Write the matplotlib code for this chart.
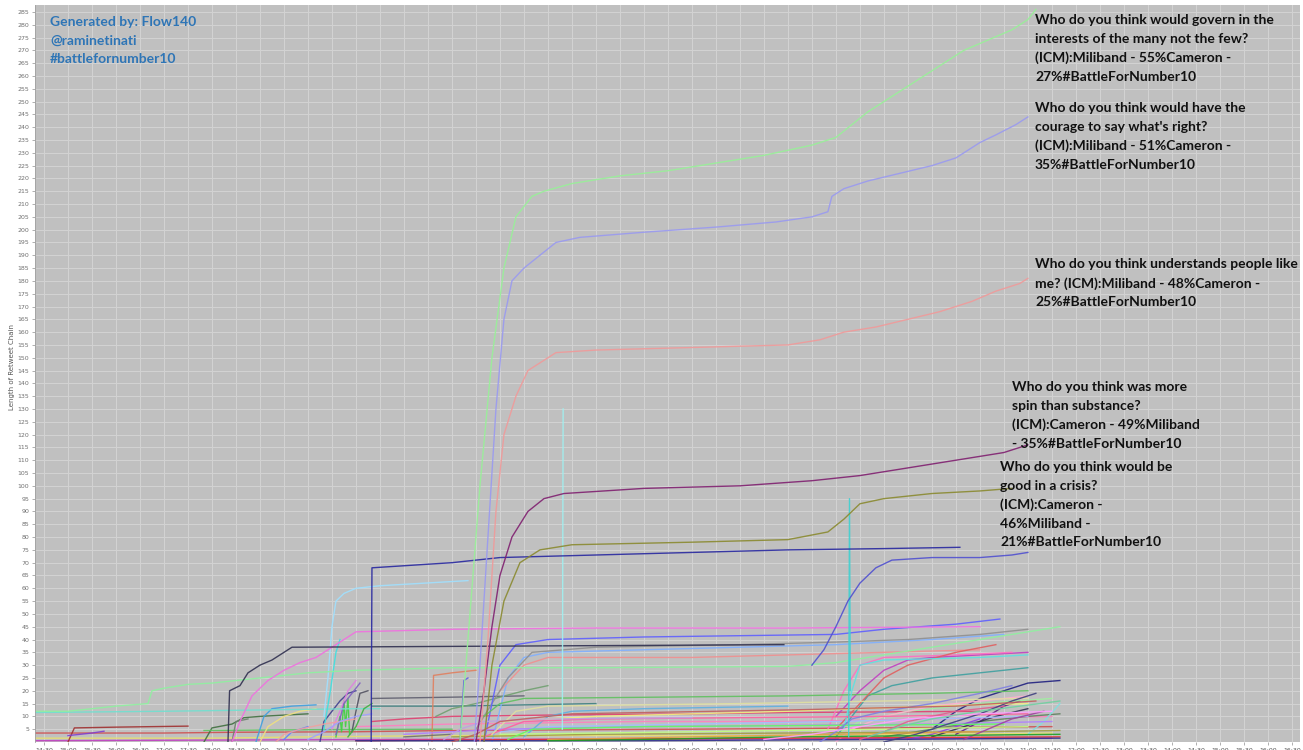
import matplotlib
matplotlib.use("Agg")
import matplotlib.pyplot as plt

# ---------------- data ----------------
x_tick_labels = ["14:30", "15:00", "15:30", "16:00", "16:30", "17:00", "17:30", "18:00", "18:30",
                 "19:00", "19:30", "20:00", "20:30", "21:00", "21:30", "22:00", "22:30", "23:00",
                 "23:30", "00:00", "00:30", "01:00", "01:30", "02:00", "02:30", "03:00", "03:30",
                 "04:00", "04:30", "05:00", "05:30", "06:00", "06:30", "07:00", "07:30", "08:00",
                 "08:30", "09:00", "09:30", "10:00", "10:30", "11:00", "11:30", "12:00", "12:30",
                 "13:00", "13:30", "14:00", "14:30", "15:00", "15:30", "16:00", "16:30"]
y_ticks = list(range(5, 290, 5))

chain_govern = [("23:10", 0), ("23:20", 40), ("23:35", 100), ("23:50", 150), ("00:05", 185),
                ("00:20", 205), ("00:40", 213), ("00:55", 215), ("01:30", 218),
                ("02:30", 221), ("03:30", 223), ("04:30", 226), ("05:30", 229), ("06:30", 233),
                ("07:00", 236), ("07:20", 241), ("07:40", 246), ("08:10", 252), ("08:40", 258),
                ("09:10", 264), ("09:40", 270), ("10:10", 274), ("10:40", 278), ("11:00", 282),
                ("11:10", 286)]
chain_courage = [("23:28", 0), ("23:35", 30), ("23:45", 80), ("23:55", 130), ("00:05", 165),
                 ("00:15", 180), ("00:30", 185), ("00:50", 190), ("01:10", 195), ("01:40", 197),
                 ("03:00", 199), ("04:30", 201), ("05:45", 203), ("06:30", 205), ("06:50", 207),
                 ("06:55", 213), ("07:10", 216), ("07:40", 219), ("08:20", 222), ("09:00", 225),
                 ("09:30", 228), ("10:00", 234), ("10:20", 237), ("10:45", 241), ("11:00", 244)]
chain_understands = [("23:35", 0), ("23:45", 40), ("23:55", 90), ("00:05", 120), ("00:20", 135),
                     ("00:35", 145), ("00:50", 148), ("01:10", 152), ("02:00", 153), ("04:00", 154),
                     ("06:00", 155), ("06:40", 157), ("07:10", 160), ("07:50", 162), ("08:30", 165),
                     ("09:10", 168), ("09:50", 172), ("10:20", 176), ("10:50", 179), ("11:00", 181)]
chain_spin = [("23:30", 0), ("23:40", 20), ("23:50", 45), ("00:00", 65), ("00:15", 80),
              ("00:35", 90), ("00:55", 95), ("01:20", 97), ("03:00", 99), ("05:00", 100),
              ("06:30", 102), ("07:30", 104), ("08:30", 107), ("09:30", 110), ("10:30", 113),
              ("11:00", 116)]
chain_crisis = [("23:40", 0), ("23:50", 30), ("00:05", 55), ("00:25", 70), ("00:50", 75),
                ("01:30", 77), ("04:00", 78), ("06:00", 79), ("06:50", 82), ("07:10", 87),
                ("07:30", 93), ("08:00", 95), ("09:00", 97), ("10:00", 98), ("10:40", 99)]
chain_navy = [("21:19", 0), ("21:20", 68), ("23:00", 70), ("00:00", 72), ("02:00", 73),
              ("04:00", 74), ("06:00", 75), ("08:00", 75.5), ("09:35", 76)]
chain_blue73 = [("06:30", 30), ("06:45", 36), ("07:00", 45), ("07:15", 55), ("07:30", 62),
                ("07:50", 68), ("08:10", 71), ("09:00", 72), ("10:00", 72), ("10:40", 73), ("11:00", 74)]
chain_spike1 = [("01:18", 5), ("01:19", 130)]
chain_spike2 = [("07:16", 2), ("07:17", 95), ("07:18", 20)]
chain_dark37 = [("18:20", 0), ("18:22", 20), ("18:35", 22), ("18:45", 27), ("19:00", 30),
                ("19:15", 32), ("19:30", 35), ("19:40", 37), ("05:55", 38)]
chain_pink44 = [("18:25", 0), ("18:35", 8), ("18:50", 18), ("19:10", 24), ("19:30", 28),
                ("19:50", 31), ("20:10", 33), ("20:25", 36), ("20:45", 40), ("21:00", 43),
                ("23:00", 44), ("02:00", 44.5), ("06:00", 44.5), ("10:00", 45)]
chain_green_left = [("14:15", 12), ("15:00", 12), ("16:00", 14), ("16:40", 15), ("16:45", 20),
                    ("17:00", 21), ("17:30", 22.5), ("18:00", 23), ("18:30", 24), ("19:00", 25),
                    ("20:00", 27), ("21:00", 28), ("23:00", 29), ("02:00", 29), ("06:00", 29.5),
                    ("07:00", 31), ("08:00", 34), ("09:00", 37), ("10:00", 40), ("11:00", 43),
                    ("11:40", 45)]
chain_c01 = [("14:15", 3.5), ("17:00", 3.5), ("18:30", 3.8), ("21:00", 4), ("23:00", 4.5),
             ("04:00", 5), ("08:00", 5.5), ("11:30", 6)]
chain_c02 = [("15:00", 0), ("15:08", 5.5), ("16:00", 5.8), ("17:30", 6.2)]
chain_c03 = [("15:00", 2.5), ("15:30", 3.5), ("15:45", 4.2)]
chain_c04 = [("14:15", 1.5), ("18:00", 1.5), ("20:00", 2), ("23:00", 2.5), ("05:00", 2.5),
             ("09:00", 3), ("11:30", 3.5)]
chain_c05 = [("14:15", 0.5), ("19:00", 0.8), ("22:00", 1), ("06:00", 1.2), ("11:30", 1.5)]
chain_c06 = [("17:50", 0), ("18:00", 5.5), ("18:25", 7), ("18:40", 9.5), ("19:00", 10), ("20:00", 11)]
chain_c07 = [("17:50", 4.5), ("20:00", 4.8), ("23:00", 5)]
chain_c08 = [("18:55", 0), ("19:00", 5), ("19:05", 10), ("19:15", 13), ("19:40", 14), ("20:10", 14.5)]
chain_c09 = [("19:00", 0), ("19:10", 6), ("19:30", 10), ("19:50", 12), ("20:10", 13)]
chain_c10 = [("18:25", 0), ("18:30", 8), ("18:45", 9)]
chain_c11 = [("19:30", 1), ("19:40", 4), ("20:00", 6)]
chain_c12 = [("20:35", 2), ("20:40", 10), ("20:42", 4), ("20:45", 16), ("20:47", 6), ("20:50", 17), ("20:52", 3)]
chain_c13 = [("20:15", 0), ("20:20", 8), ("20:30", 12), ("20:40", 16), ("20:50", 19), ("21:00", 20)]
chain_c14 = [("20:30", 5), ("20:40", 12), ("20:50", 20), ("21:00", 24)]
chain_c15 = [("20:35", 3), ("20:45", 15), ("21:00", 21), ("21:05", 23)]
chain_c16 = [("20:55", 4), ("21:00", 12), ("21:05", 19), ("21:15", 20)]
chain_c17 = [("21:20", 17), ("23:00", 17.5), ("00:30", 18)]
chain_c18 = [("21:20", 14), ("23:00", 14), ("02:00", 15)]
chain_c19 = [("21:20", 8), ("22:00", 9), ("23:00", 10), ("01:00", 10.5), ("04:00", 11), ("06:00", 11.5), ("10:00", 12)]
chain_c20 = [("21:00", 6), ("23:00", 7), ("03:00", 8), ("06:00", 8), ("09:00", 9), ("11:30", 10)]
chain_c21 = [("22:35", 0), ("22:37", 26), ("23:00", 27), ("23:30", 28)]
chain_c22 = [("23:10", 0), ("23:15", 24), ("23:20", 25)]
chain_c23 = [("22:40", 10), ("23:00", 13), ("23:30", 15), ("00:30", 20), ("01:00", 22)]
chain_c24 = [("22:00", 2), ("23:00", 3)]
chain_c25 = [("23:50", 0), ("00:10", 25), ("00:30", 33), ("01:00", 35), ("03:00", 36), ("05:00", 37),
             ("07:00", 38), ("09:00", 40), ("10:30", 42)]
chain_c26 = [("00:00", 20), ("00:30", 30), ("01:00", 33), ("04:00", 33), ("06:00", 34), ("08:00", 35), ("10:00", 36)]
chain_c27 = [("23:30", 5), ("00:10", 25), ("00:40", 35), ("02:00", 37), ("05:00", 38), ("07:00", 39),
             ("08:30", 40), ("10:00", 42), ("11:00", 44)]
chain_c28 = [("23:40", 0), ("00:00", 30), ("00:20", 38), ("01:00", 40), ("03:00", 41), ("05:00", 41.5),
             ("07:00", 42), ("08:00", 44), ("09:30", 46), ("10:25", 48)]
chain_c29 = [("07:00", 10), ("07:30", 20), ("08:00", 28), ("08:30", 32), ("09:00", 33), ("10:00", 34), ("11:00", 35)]
chain_c30 = [("06:50", 5), ("07:10", 20), ("07:30", 30), ("08:00", 33), ("09:30", 34), ("10:40", 35)]
chain_c31 = [("09:00", 5), ("09:30", 12), ("10:00", 17), ("10:30", 20), ("11:00", 23), ("11:40", 24)]
chain_c32 = [("08:00", 2), ("09:00", 5), ("10:00", 8), ("11:00", 10), ("11:40", 11)]
chain_c33 = [("09:30", 3), ("10:00", 8), ("10:30", 14), ("10:50", 16)]
chain_c34 = [("09:00", 2), ("09:40", 6), ("10:20", 10), ("11:00", 13)]
chain_c35 = [("11:00", 3), ("11:20", 8), ("11:40", 15)]
chain_c36 = [("07:00", 3), ("07:30", 8), ("08:30", 12), ("10:00", 15), ("11:30", 17)]
chain_c37 = [("07:00", 0), ("07:20", 5), ("08:00", 10), ("09:00", 14), ("10:00", 16), ("11:00", 18)]
chain_c38 = [("07:00", 2), ("07:25", 12), ("07:40", 18), ("08:10", 22), ("09:00", 25), ("10:00", 27), ("11:00", 29)]
chain_c39 = [("23:00", 2), ("02:00", 3), ("06:00", 3.5), ("10:00", 4), ("11:40", 4.5)]
chain_c40 = [("21:00", 0.5), ("01:00", 1), ("06:00", 1.5), ("11:40", 2)]
chain_c41 = [("00:00", 4), ("01:00", 6), ("04:00", 7), ("07:00", 8), ("09:00", 9), ("11:00", 10)]
chain_c42 = [("22:00", 3), ("00:00", 5), ("03:00", 6), ("06:00", 6.5), ("09:00", 7), ("11:30", 8)]
chain_c43 = [("23:40", 10), ("00:00", 15), ("00:30", 17), ("06:00", 18), ("09:00", 19), ("11:00", 20)]
chain_c44 = [("08:30", 1), ("09:00", 3), ("09:30", 6), ("10:00", 9)]
chain_c45 = [("00:30", 2), ("01:00", 10), ("01:30", 12), ("03:00", 13), ("06:00", 14)]
chain_c46 = [("21:00", 0.5), ("03:00", 0.5), ("08:00", 1), ("11:40", 1.5)]
chain_c47 = [("01:00", 1), ("04:00", 2), ("07:00", 3), ("10:00", 4)]
chain_c48 = [("07:00", 5), ("07:30", 15), ("08:00", 25), ("08:30", 30), ("09:30", 35), ("10:20", 38)]
chain_c49 = [("07:10", 5), ("07:20", 20), ("07:30", 30), ("08:00", 32), ("10:00", 33), ("11:00", 34)]
chain_c50 = [("00:00", 8), ("02:00", 10), ("06:00", 12), ("09:00", 14), ("11:00", 15)]
chain_c51 = [("00:00", 3), ("04:00", 4), ("08:00", 5), ("11:00", 6)]
chain_c52 = [("14:15", 11.5), ("17:00", 12), ("19:00", 12.5), ("21:00", 13), ("21:30", 13)]
chain_c53 = [("20:20", 10), ("20:25", 25), ("20:30", 45), ("20:35", 55), ("20:45", 58), ("21:00", 60),
             ("21:30", 61), ("23:20", 63)]
chain_c54 = [("20:20", 5), ("20:28", 20), ("20:35", 35), ("20:40", 40)]
chain_c55 = [("23:40", 2), ("00:30", 8), ("02:00", 9), ("05:00", 9.5), ("08:00", 10), ("11:00", 11)]
chain_c56 = [("00:10", 1), ("00:40", 5), ("03:00", 6), ("07:00", 6.5), ("10:30", 7)]
chain_c57 = [("23:50", 3), ("00:20", 12), ("01:00", 14), ("05:00", 15), ("08:00", 16), ("11:00", 17)]
chain_c58 = [("06:40", 0), ("07:00", 4), ("07:20", 9), ("08:00", 12), ("09:00", 15), ("10:00", 19), ("10:40", 22)]
chain_c59 = [("07:30", 1), ("08:00", 4), ("08:30", 8), ("09:30", 12), ("10:30", 14)]
chain_c60 = [("08:00", 0), ("08:40", 3), ("09:20", 7), ("10:00", 11), ("10:40", 16), ("11:10", 19)]
chain_c61 = [("09:40", 1), ("10:10", 5), ("10:40", 9), ("11:20", 12)]
chain_c62 = [("19:20", 0), ("19:30", 3), ("19:50", 5), ("20:20", 7), ("21:00", 9)]
chain_c63 = [("20:00", 1), ("20:20", 4), ("20:40", 8), ("21:00", 10), ("21:20", 11)]
chain_c64 = [("20:50", 2), ("21:00", 6), ("21:10", 13), ("21:20", 15)]
chain_c65 = [("22:50", 1), ("23:10", 5), ("23:40", 8), ("01:00", 9), ("04:00", 9.5)]
chain_c66 = [("01:00", 0.5), ("03:00", 1), ("06:00", 2), ("09:00", 2.5), ("11:40", 3)]
chain_c67 = [("05:30", 1), ("06:30", 3), ("07:30", 6), ("08:30", 9), ("10:00", 11), ("11:30", 12)]
chain_c68 = [("23:00", 0), ("23:30", 3), ("00:00", 8), ("01:30", 11), ("06:00", 12.5), ("09:30", 14), ("11:10", 16)]
chain_c69 = [("07:40", 2), ("08:20", 6), ("09:00", 9), ("10:00", 12), ("11:40", 16)]

annotation_govern = "Who do you think would govern in the\ninterests of the many not the few?\n(ICM):Miliband - 55%Cameron -\n27%#BattleForNumber10"
annotation_courage = "Who do you think would have the\ncourage to say what's right?\n(ICM):Miliband - 51%Cameron -\n35%#BattleForNumber10"
annotation_understands = "Who do you think understands people like\nme? (ICM):Miliband - 48%Cameron -\n25%#BattleForNumber10"
annotation_spin = "Who do you think was more\nspin than substance?\n(ICM):Cameron - 49%Miliband\n- 35%#BattleForNumber10"
annotation_crisis = "Who do you think would be\ngood in a crisis?\n(ICM):Cameron -\n46%Miliband -\n21%#BattleForNumber10"
credit_text = "Generated by: Flow140\n@raminetinati\n#battlefornumber10"
y_label = "Length of Retweet Chain"

# ---------------- styling ----------------
chains = [
    (chain_c05, "#c040c0"), (chain_c04, "#e8e070"), (chain_c01, "#d05050"), (chain_c02, "#a03030"),
    (chain_c03, "#8040d0"), (chain_c06, "#407040"), (chain_c07, "#60c060"), (chain_c08, "#40a0e0"),
    (chain_c09, "#f0e080"), (chain_c10, "#708070"), (chain_c11, "#6080ff"), (chain_c12, "#40d040"),
    (chain_c13, "#404090"), (chain_c14, "#e080e0"), (chain_c15, "#8060c0"), (chain_c16, "#505060"),
    (chain_c17, "#606070"), (chain_c18, "#408080"), (chain_c19, "#e04070"), (chain_c20, "#ff80c0"),
    (chain_c21, "#e08060"), (chain_c22, "#6060e0"), (chain_c23, "#70a070"), (chain_c24, "#707070"),
    (chain_c25, "#80b0ff"), (chain_c26, "#f09090"), (chain_c27, "#909090"), (chain_c28, "#6060ff"),
    (chain_c29, "#c040c0"), (chain_c30, "#ff70c0"), (chain_c31, "#202080"), (chain_c32, "#608060"),
    (chain_c33, "#602080"), (chain_c34, "#303050"), (chain_c35, "#80e0e0"), (chain_c36, "#a0f0a0"),
    (chain_c37, "#ffb0d0"), (chain_c38, "#40a0a0"), (chain_c39, "#a0a040"), (chain_c40, "#e03030"),
    (chain_c41, "#a0c0ff"), (chain_c42, "#b080ff"), (chain_c43, "#60c060"), (chain_c44, "#9040e0"),
    (chain_c45, "#60b0e0"), (chain_c46, "#303090"), (chain_c47, "#e0a040"), (chain_c48, "#e06060"),
    (chain_c49, "#60e0e0"), (chain_c50, "#f0f080"), (chain_c51, "#c0ff80"), (chain_c52, "#70e0d0"),
    (chain_c53, "#a0e0ff"), (chain_c54, "#40e0e0"), (chain_c55, "#ff60a0"), (chain_c56, "#60ff60"),
    (chain_c57, "#e0e0a0"), (chain_c58, "#8080e0"), (chain_c59, "#e06090"), (chain_c60, "#404080"),
    (chain_c61, "#a040a0"), (chain_c62, "#f0a0a0"), (chain_c63, "#a0a0ff"), (chain_c64, "#40b040"),
    (chain_c65, "#c0a0e0"), (chain_c66, "#20a020"), (chain_c67, "#ffa0ff"), (chain_c68, "#c06060"),
    (chain_c69, "#70d0a0"),
    (chain_green_left, "#90f0a0"), (chain_pink44, "#f070e0"), (chain_dark37, "#303050"),
    (chain_spike1, "#a0f0f0"), (chain_spike2, "#40d0d0"), (chain_blue73, "#5050d0"),
    (chain_navy, "#2828a0"), (chain_crisis, "#8a8a30"), (chain_spin, "#802070"),
    (chain_understands, "#f09a9a"), (chain_courage, "#9a9af0"), (chain_govern, "#98f098"),
]


def hours(clock):
    h, m = map(int, clock.split(":"))
    t = h + m / 60.0
    if h < 14:
        t += 24
    return t - 14.5


W, H = 1303, 750
fig = plt.figure(figsize=(W / 100, H / 100), dpi=100)
fig.patch.set_facecolor("white")
ax = fig.add_axes([35 / W, 8 / H, 1265 / W, 737 / H])
ax.set_facecolor("#c0c0c0")
ax.set_xlim(-0.1875, 26.17)
ax.set_ylim(0, 287.7)

for pts, col in chains:
    xs = [hours(t) for t, v in pts]
    ys = [v for t, v in pts]
    ax.plot(xs, ys, color=col, lw=1.0, alpha=0.9, solid_joinstyle="round")

ax.set_xticks([i * 0.5 for i in range(len(x_tick_labels))])
ax.set_xticklabels(x_tick_labels, fontsize=4.5, color="#505050")
ax.set_yticks(y_ticks)
ax.set_yticklabels([str(v) for v in y_ticks], fontsize=4.5, color="#707070")
ax.tick_params(axis="both", length=2.5, width=0.5, color="#909090", pad=1.5)
ax.grid(True, color="#d2d2d2", lw=0.8)
ax.set_axisbelow(True)
for s in ax.spines.values():
    s.set_visible(False)
ax.spines["left"].set_visible(True)
ax.spines["left"].set_color("#a0a0a0")
ax.spines["left"].set_linewidth(0.6)

fig.text(12 / W, 1 - 367 / H, y_label, rotation=90, fontsize=5, color="#555555",
         ha="center", va="center")

txt_kw = dict(fontsize=10, fontweight="bold", family="Lato", ha="left", va="top",
              linespacing=1.66)
fig.text(50 / W, 1 - 16 / H, credit_text, color="#2e75b6", **txt_kw)
fig.text(1035 / W, 1 - 14 / H, annotation_govern, color="#111111", **txt_kw)
fig.text(1035 / W, 1 - 102 / H, annotation_courage, color="#111111", **txt_kw)
fig.text(1035 / W, 1 - 258 / H, annotation_understands, color="#111111", **txt_kw)
fig.text(1012 / W, 1 - 381 / H, annotation_spin, color="#111111", **txt_kw)
fig.text(1000 / W, 1 - 461 / H, annotation_crisis, color="#111111", **txt_kw)

fig.savefig("out.png", dpi=100)
